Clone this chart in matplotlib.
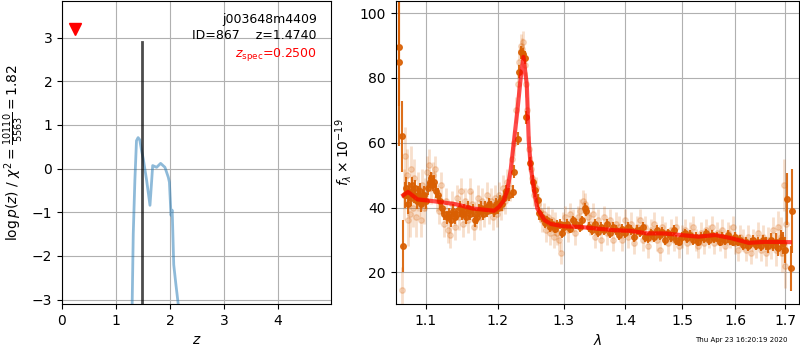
import matplotlib
matplotlib.use("Agg")
import matplotlib.pyplot as plt
from matplotlib.ticker import FixedLocator, FixedFormatter, NullLocator

# p(z) curve
z_grid = [1.30, 1.32, 1.35, 1.38, 1.41, 1.44, 1.475, 1.506, 1.568, 1.63, 1.66, 1.68,
          1.753, 1.827, 1.907, 1.97, 1.99, 2.02, 2.04, 2.045, 2.07, 2.11, 2.15]
log_pz = [-3.1, -1.5, -0.27, 0.64, 0.71, 0.66, 0.41, 0.22, -0.27, -0.84, -0.3, 0.07,
          0.03, 0.12, 0.03, -0.2, -0.31, -1.07, -0.95, -1.1, -2.2, -2.65, -3.07]
z_best = 1.4740
z_spec = 0.25
z_best_top = 2.9

# binned spectrum
wave = [1.0645, 1.0651, 1.0689, 1.0700,
        1.072, 1.074, 1.076, 1.078, 1.080, 1.082, 1.084, 1.086, 1.088, 1.090,
        1.092, 1.094, 1.096, 1.098, 1.100, 1.103, 1.105, 1.107, 1.109, 1.111,
        1.113, 1.116, 1.119, 1.122, 1.125, 1.128, 1.131, 1.134, 1.137, 1.140,
        1.143, 1.146, 1.149, 1.152, 1.155, 1.158, 1.161, 1.164, 1.167, 1.170,
        1.173, 1.176, 1.179, 1.182, 1.185, 1.188, 1.191, 1.194, 1.197, 1.200,
        1.203, 1.206, 1.209, 1.212, 1.216, 1.222, 1.2236, 1.2297, 1.2313, 1.2345,
        1.2375, 1.2400, 1.2426, 1.2478, 1.252, 1.2555, 1.2594, 1.2622, 1.266, 1.270,
        1.274, 1.278, 1.282, 1.286, 1.290, 1.294, 1.297, 1.300, 1.305, 1.310,
        1.315, 1.320, 1.325, 1.329, 1.333, 1.336, 1.340, 1.345, 1.350, 1.355,
        1.360, 1.365, 1.370, 1.375, 1.380, 1.385, 1.390, 1.395, 1.400, 1.405,
        1.410, 1.415, 1.420, 1.425, 1.430, 1.435, 1.440, 1.445, 1.450, 1.455,
        1.460, 1.465, 1.470, 1.475, 1.480, 1.485, 1.490, 1.495, 1.500, 1.505,
        1.510, 1.515, 1.520, 1.525, 1.530, 1.535, 1.540, 1.545, 1.550, 1.555,
        1.560, 1.565, 1.570, 1.575, 1.580, 1.585, 1.590, 1.595, 1.600, 1.605,
        1.610, 1.615, 1.620, 1.625, 1.630, 1.635, 1.640, 1.645, 1.650, 1.655,
        1.660, 1.665, 1.670, 1.675, 1.680, 1.685, 1.690, 1.695, 1.699,
        1.7035, 1.711, 1.7135]
flux = [85.0, 89.5, 62.0, 28.0,
        44, 46, 41, 45, 43, 47, 44, 46, 42, 44,
        45, 41, 43, 44, 42, 46, 48, 49, 47, 48,
        45, 44, 42, 40, 38, 37, 38, 36, 39, 37,
        38, 40, 38, 39, 37, 40, 38, 39, 36, 37,
        39, 40, 38, 40, 39, 41, 40, 39, 41, 40,
        42, 41, 43, 45, 44, 44.8, 51, 61.2, 81.9, 87.9,
        87.4, 86.3, 67.9, 53.7, 47.9, 45.3, 42.2, 38.2, 37, 35.1,
        36, 34, 35, 33.5, 34.5, 35, 32, 34, 35, 33.5,
        36, 35, 34, 36, 40, 39, 34, 33, 35, 32.5,
        34, 33, 35, 32, 34, 33, 31.5, 33.5, 32, 34,
        33, 31, 33, 32.5, 34, 31, 30.5, 32, 31, 33,
        31.5, 32.5, 30, 32, 31, 33, 30, 29.5, 31, 32,
        30.5, 31.5, 30, 31, 29.5, 31, 30.5, 32, 30, 31.5,
        30.5, 31, 29.5, 31, 30, 31.5, 30, 29.5, 31, 29.5,
        30, 28.5, 29.5, 28, 29, 30, 28.5, 29.5, 28, 30,
        29, 28, 30, 28.5, 29.5, 27.5, 30, 29, 27,
        42.6, 21.2, 38.9]
flux_err = [26, 18, 11, 8,
            4, 3.5, 3, 3, 2.5, 2.5, 2.5, 2.5, 2.5, 2.5,
            2.5, 2.5, 2.5, 2.5, 2.5, 2, 2, 2, 2, 2,
            2, 2, 2, 2, 2, 2, 2, 2, 2, 2,
            2, 2, 2, 2, 2, 2, 2, 2, 2, 2,
            2, 2, 2, 2, 2, 2, 2, 2, 2, 2,
            2, 2, 2, 2, 2, 2, 2, 2, 2, 2,
            2, 2, 2, 2, 2, 2, 2, 2, 1.5, 1.5,
            1.5, 1.5, 1.5, 1.5, 1.5, 1.5, 1.5, 1.5, 1.5, 1.5,
            1.5, 1.5, 1.5, 1.5, 1.5, 1.5, 1.5, 1.5, 1.5, 1.5,
            1.5, 1.5, 1.5, 1.5, 1.5, 1.5, 1.5, 1.5, 1.5, 1.5,
            1.5, 1.5, 1.5, 1.5, 1.5, 1.5, 1.5, 1.5, 1.5, 1.5,
            1.5, 1.5, 1.5, 1.5, 1.5, 1.5, 1.5, 1.5, 1.5, 1.5,
            1.5, 1.5, 1.5, 1.5, 1.5, 1.5, 1.5, 1.5, 1.5, 1.5,
            1.5, 1.5, 1.5, 1.5, 1.5, 1.5, 1.5, 1.5, 1.5, 1.5,
            1.5, 1.5, 1.5, 1.5, 1.5, 1.5, 1.5, 1.5, 1.5, 1.5,
            2, 2, 2, 2, 2.5, 2.5, 3, 3.5, 4,
            8, 7, 13]

# individual exposure points (faint)
wave_beam = [1.0690, 1.071, 1.073, 1.075, 1.077, 1.079, 1.081, 1.083, 1.085, 1.087,
             1.089, 1.091, 1.093, 1.095, 1.097, 1.099, 1.101, 1.104, 1.107, 1.110,
             1.112, 1.115, 1.118, 1.121, 1.124, 1.127, 1.130, 1.133, 1.136, 1.139,
             1.142, 1.145, 1.148, 1.151, 1.154, 1.157, 1.160, 1.163, 1.166, 1.169,
             1.172, 1.175, 1.178, 1.181, 1.184, 1.187, 1.190, 1.193, 1.196, 1.199,
             1.202, 1.205, 1.208, 1.211, 1.214, 1.218, 1.221, 1.224, 1.227, 1.230,
             1.232, 1.234, 1.236, 1.238, 1.240, 1.242, 1.244, 1.246, 1.249, 1.251,
             1.254, 1.257, 1.260, 1.263, 1.266, 1.269, 1.272, 1.275, 1.278, 1.281,
             1.284, 1.287, 1.290, 1.293, 1.296, 1.299, 1.302, 1.306, 1.310, 1.314,
             1.318, 1.322, 1.326, 1.330, 1.334, 1.338, 1.342, 1.346, 1.350, 1.355,
             1.360, 1.365, 1.370, 1.375, 1.380, 1.385, 1.390, 1.395, 1.400, 1.405,
             1.410, 1.415, 1.420, 1.425, 1.430, 1.435, 1.440, 1.445, 1.450, 1.455,
             1.460, 1.465, 1.470, 1.475, 1.480, 1.485, 1.490, 1.495, 1.500, 1.505,
             1.510, 1.515, 1.520, 1.525, 1.530, 1.535, 1.540, 1.545, 1.550, 1.555,
             1.560, 1.565, 1.570, 1.575, 1.580, 1.585, 1.590, 1.595, 1.600, 1.605,
             1.610, 1.615, 1.620, 1.625, 1.630, 1.635, 1.640, 1.645, 1.650, 1.655,
             1.660, 1.665, 1.670, 1.675, 1.680, 1.685, 1.690, 1.694, 1.697, 1.699,
             1.701]
flux_beam = [14.5, 44, 56, 50, 36, 38, 52, 40, 49, 37,
             45, 42, 36, 47, 40, 44, 51, 53, 46, 50,
             52, 43, 39, 47, 35, 42, 33, 31.5, 41, 34,
             43, 37, 45, 35, 42, 36, 45, 41, 34, 38,
             43, 37, 42, 38, 44, 39, 42, 37, 43, 38,
             44, 40, 46, 42, 48, 46, 55, 60, 70, 78,
             85, 90, 89, 91, 84, 78, 70, 58, 52, 49,
             44, 46, 41, 39, 36, 38, 33, 37, 32, 36,
             31, 35, 32, 30, 26, 35, 37, 33, 38, 36,
             32, 37, 39, 42, 41, 37, 35, 38, 31, 36,
             30, 37, 32, 36, 30, 35, 34, 30, 36, 31,
             35, 29, 34, 36, 30, 34, 28, 33, 35, 30,
             27, 34, 32, 29, 33, 30, 34, 28, 31, 33,
             29, 32, 34, 30, 28, 32, 29, 33, 31, 34,
             29, 32, 30, 33, 28, 32, 31, 34, 29, 27,
             31, 30, 27, 31, 26, 30, 28, 32, 27, 31,
             26, 30, 28, 33, 27, 34, 31, 26, 47, 22,
             35]
flux_beam_err = [7, 8, 9, 8, 8, 7, 7, 6, 6, 6,
                 6, 5, 5, 5, 5, 5, 5, 5, 5, 4,
                 4, 4, 4, 4, 4, 4, 4, 4, 4, 4,
                 4, 4, 4, 4, 4, 4, 4, 4, 4, 4,
                 4, 4, 4, 4, 4, 4, 4, 4, 4, 4,
                 4, 4, 4, 4, 4, 4, 4, 4, 4, 4,
                 4, 3.5, 3.5, 3.5, 3.5, 4, 4, 4, 4, 4,
                 3.5, 3.5, 3.5, 3.5, 3.5, 3.5, 3.5, 3.5, 3.5, 3.5,
                 3.5, 3.5, 3.5, 3.5, 3.5, 3.5, 3.5, 3.5, 3.5, 3.5,
                 3.5, 3.5, 3.5, 3.5, 3.5, 3.5, 3.5, 3.5, 3.5, 3.5,
                 3.5, 3.5, 3.5, 3.5, 3.5, 3.5, 3.5, 3.5, 3.5, 3.5,
                 3.5, 3.5, 3.5, 3.5, 3.5, 3.5, 3.5, 3.5, 3.5, 3.5,
                 3.5, 3.5, 3.5, 3.5, 3.5, 3.5, 3.5, 3.5, 3.5, 3.5,
                 3.5, 3.5, 3.5, 3.5, 3.5, 3.5, 3.5, 3.5, 3.5, 3.5,
                 3.5, 3.5, 3.5, 3.5, 3.5, 3.5, 3.5, 3.5, 3.5, 3.5,
                 3.5, 3.5, 3.5, 3.5, 3.5, 3.5, 3.5, 3.5, 3.5, 3.5,
                 4, 4, 4, 4, 5, 5, 6, 6, 8, 7,
                 9]

# best-fit model
wave_model = [1.0705, 1.0765, 1.089, 1.101, 1.119, 1.141, 1.164, 1.195, 1.202, 1.209,
              1.214, 1.219, 1.224, 1.229, 1.234, 1.238, 1.243, 1.246, 1.249, 1.254,
              1.259, 1.270, 1.280, 1.300, 1.326, 1.353, 1.381, 1.409, 1.438, 1.468,
              1.498, 1.530, 1.562, 1.593, 1.626, 1.659, 1.709]
flux_model = [43.8, 44.8, 42.5, 42.2, 41.7, 41.0, 39.7, 39.0, 40.2, 42.2,
              45.3, 51.5, 60.7, 70.0, 80.2, 86.5, 78.1, 60.7, 52.5, 45.3,
              39.7, 36.1, 34.9, 34.2, 34.0, 33.5, 33.0, 32.8, 32.0, 32.0,
              31.5, 31.0, 31.5, 30.5, 29.1, 29.4, 29.3]

obj_root = "j003648m4409"
obj_id = 867
chi2_num, chi2_dof = 10110, 5563
stamp = "Thu Apr 23 16:20:19 2020"

fig = plt.figure(figsize=(8, 3.5), dpi=100)

# --- left: log p(z)
ax = fig.add_axes([0.0775, 0.1314, 0.336, 0.866])
ax.plot(z_grid, log_pz, color="tab:blue", alpha=0.5, lw=2)
ax.plot([z_best, z_best], [-3.1, z_best_top], color="k", alpha=0.7, lw=2)
ax.plot(z_spec, 3.2, marker="v", color="red", markersize=8, linestyle="none")
ax.set_xlim(0, 4.98)
ax.set_ylim(-3.1, 3.84)
ax.set_xticks([0, 1, 2, 3, 4])
ax.set_yticks([-3, -2, -1, 0, 1, 2, 3])
ax.grid(True)
ax.set_xlabel("$z$")
ax.set_ylabel(r"$\log p(z)$ / $\chi^2=\frac{%d}{%d}=%.2f$" % (chi2_num, chi2_dof, chi2_num / chi2_dof))
ax.text(0.948, 0.9375, obj_root, transform=ax.transAxes, ha="right", va="center", fontsize=9)
ax.text(0.948, 0.885, "ID=%d    z=%.4f" % (obj_id, z_best), transform=ax.transAxes,
        ha="right", va="center", fontsize=9)
ax.text(0.948, 0.822, r"$z_\mathrm{spec}$=%.4f" % z_spec, transform=ax.transAxes,
        ha="right", va="center", fontsize=9, color="red")

# --- right: spectrum
ax2 = fig.add_axes([0.4946, 0.1314, 0.5040, 0.866])
orange = "#d95f02"
ax2.errorbar(wave_beam, flux_beam, yerr=flux_beam_err, fmt="o", color=orange, alpha=0.2,
             markersize=4, elinewidth=2, capsize=0)
ax2.errorbar(wave, flux, yerr=flux_err, fmt="o", color=orange, alpha=0.9,
             markersize=4, elinewidth=1.5, capsize=0)
ax2.plot(wave_model, flux_model, color="red", alpha=0.7, lw=3, zorder=5)
ax2.set_xscale("log")
ax2.set_xlim(1.0606, 1.728)
ax2.set_ylim(10.2, 103.8)
xt = [1.1, 1.2, 1.3, 1.4, 1.5, 1.6, 1.7]
ax2.xaxis.set_major_locator(FixedLocator(xt))
ax2.xaxis.set_major_formatter(FixedFormatter(["%.1f" % v for v in xt]))
ax2.xaxis.set_minor_locator(NullLocator())
ax2.set_yticks([20, 40, 60, 80, 100])
ax2.grid(True)
ax2.set_xlabel(r"$\lambda$")
ax2.set_ylabel(r"$f_\lambda \times 10^{-19}$")

fig.text(0.985, 0.028, stamp, ha="right", va="center", fontsize=5)

fig.savefig("out.png", dpi=100)
